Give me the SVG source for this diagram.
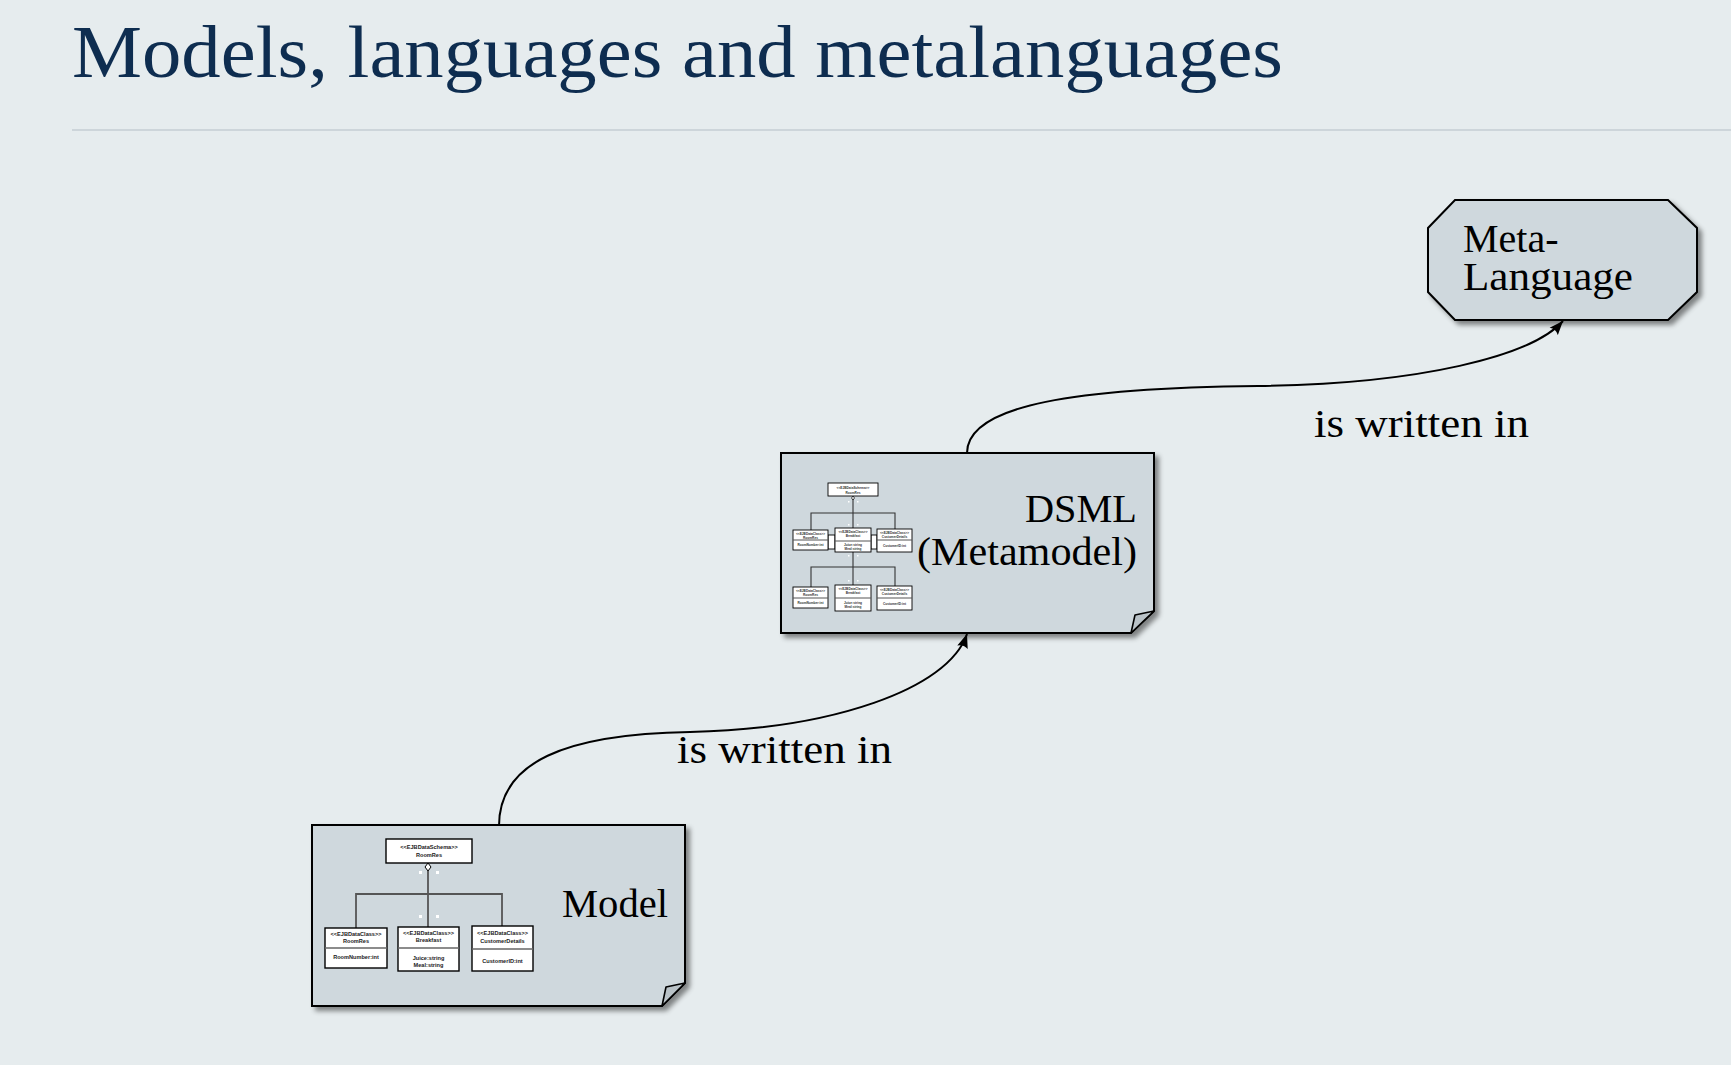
<svg xmlns="http://www.w3.org/2000/svg" width="1731" height="1065" viewBox="0 0 1731 1065">
  <style>
    .title { font-family: "Liberation Serif", "Times New Roman", serif; font-size: 74px; fill: #0e2d50; }
    .lbl { font-family: "Liberation Serif", "Times New Roman", serif; font-size: 40px; fill: #000; }
    .node { fill: #cfd8dd; stroke: #000; stroke-width: 2; }
    .fold { fill: #b9c2c7; stroke: #000; stroke-width: 1.6; stroke-linejoin: round; }
    .edge { fill: none; stroke: #000; stroke-width: 2; }
    .box { fill: #fff; stroke: #000; stroke-width: 1.4; }
    .sbox { fill: #fff; stroke: #000; stroke-width: 0.9; }
    .div { stroke: #666; stroke-width: 1.6; }
    .sdiv { stroke: #555; stroke-width: 1; }
    .wire { fill: none; stroke: #555; stroke-width: 1.8; }
    .swire { fill: none; stroke: #333; stroke-width: 1.1; }
    .handle { fill: #fff; }
    .mt { font-family: "Liberation Sans", Arial, sans-serif; font-size: 5.6px; font-weight: bold; fill: #222; text-anchor: middle; }
    .st { font-family: "Liberation Sans", Arial, sans-serif; font-size: 3.2px; font-weight: bold; fill: #333; text-anchor: middle; }
  </style>
  <defs>
    <filter id="shadow" x="-10%" y="-10%" width="125%" height="130%">
      <feDropShadow dx="4" dy="4" stdDeviation="2.5" flood-color="#000" flood-opacity="0.45"/>
    </filter>
    <marker id="arrow" viewBox="0 -6 15 12" refX="14" refY="0" markerWidth="15" markerHeight="12" markerUnits="userSpaceOnUse" orient="auto">
      <path d="M0,-5.5 L14,0 L0,5.5 Q3.5,0 0,-5.5 Z" fill="#000"/>
    </marker>
  </defs>

  <!-- page background -->
  <rect width="1731" height="1065" fill="#e6ecee"/>

  <!-- slide heading and rule -->
  <text class="title" x="72" y="77" textLength="1211" lengthAdjust="spacingAndGlyphs">Models, languages and metalanguages</text>
  <line x1="72" y1="130" x2="1731" y2="130" stroke="#cdd5da" stroke-width="2"/>

  <!-- connectors -->
  <g id="connectors">
    <path class="edge" d="M499,826 C499,762 565,734 690,732 C830,729 948,690 967,634" marker-end="url(#arrow)"/>
    <path class="edge" d="M967,453 C967,404 1080,388 1258,386 C1420,384 1532,356 1563,321" marker-end="url(#arrow)"/>
    <text class="lbl" x="677" y="763" textLength="215" lengthAdjust="spacingAndGlyphs">is written in</text>
    <text class="lbl" x="1314" y="437" textLength="215" lengthAdjust="spacingAndGlyphs">is written in</text>
  </g>

  <!-- Model: note shape with a small class diagram -->
  <g id="model">
    <path class="node" filter="url(#shadow)" d="M312,825 H685 V983 L662,1006 H312 Z"/>
    <path class="fold" d="M662,1006 L666,987 L685,983 Z"/>
    <text class="lbl" x="562" y="917" textLength="106" lengthAdjust="spacingAndGlyphs">Model</text>

    <!-- associations -->
    <line class="wire" x1="428" y1="871" x2="428" y2="927"/>
    <path class="wire" d="M356,928 V894 H502 V926"/>
    <path d="M428,863 L431,867 L428,871 L425,867 Z" fill="#fff" stroke="#000" stroke-width="1"/>
    <rect class="handle" x="419" y="871" width="3" height="3"/>
    <rect class="handle" x="436" y="871" width="3" height="3"/>
    <rect class="handle" x="419" y="915" width="3" height="3"/>
    <rect class="handle" x="436" y="915" width="3" height="3"/>

    <!-- schema -->
    <rect class="box" x="386" y="839" width="86" height="24"/>
    <text class="mt" x="429" y="849">&lt;&lt;EJBDataSchema&gt;&gt;</text>
    <text class="mt" x="429" y="857">RoomRes</text>

    <!-- classes -->
    <rect class="box" x="325" y="928" width="62" height="40"/>
    <line class="div" x1="325" y1="948" x2="387" y2="948"/>
    <text class="mt" x="356" y="936">&lt;&lt;EJBDataClass&gt;&gt;</text>
    <text class="mt" x="356" y="943">RoomRes</text>
    <text class="mt" x="356" y="959">RoomNumber:int</text>

    <rect class="box" x="398" y="927" width="61" height="44"/>
    <line class="div" x1="398" y1="948" x2="459" y2="948"/>
    <text class="mt" x="428.5" y="935">&lt;&lt;EJBDataClass&gt;&gt;</text>
    <text class="mt" x="428.5" y="942">Breakfast</text>
    <text class="mt" x="428.5" y="960">Juice:string</text>
    <text class="mt" x="428.5" y="967">Meal:string</text>

    <rect class="box" x="472" y="926" width="61" height="45"/>
    <line class="div" x1="472" y1="949" x2="533" y2="949"/>
    <text class="mt" x="502.5" y="935">&lt;&lt;EJBDataClass&gt;&gt;</text>
    <text class="mt" x="502.5" y="943">CustomerDetails</text>
    <text class="mt" x="502.5" y="963">CustomerID:int</text>
  </g>

  <!-- DSML (Metamodel): note shape with a smaller class diagram -->
  <g id="dsml">
    <path class="node" filter="url(#shadow)" d="M781,453 H1154 V611 L1131,633 H781 Z"/>
    <path class="fold" d="M1131,633 L1135,615 L1154,611 Z"/>
    <text class="lbl" x="1137" y="522" text-anchor="end" textLength="112" lengthAdjust="spacingAndGlyphs">DSML</text>
    <text class="lbl" x="1137" y="565" text-anchor="end" textLength="220" lengthAdjust="spacingAndGlyphs">(Metamodel)</text>

    <!-- associations -->
    <line class="swire" x1="853" y1="498" x2="853" y2="528"/>
    <path class="swire" d="M811,530 V513 H895 V529"/>
    <line class="swire" x1="853" y1="552" x2="853" y2="585"/>
    <path class="swire" d="M811,587 V567 H895 V586"/>
    <path d="M853,496 L854.5,498 L853,500 L851.5,498 Z" fill="#fff" stroke="#000" stroke-width="0.7"/>
    <rect class="handle" x="848" y="501" width="1.5" height="1.5"/>
    <rect class="handle" x="857" y="501" width="1.5" height="1.5"/>
    <rect class="handle" x="848" y="524" width="1.5" height="1.5"/>
    <rect class="handle" x="857" y="524" width="1.5" height="1.5"/>
    <rect class="handle" x="848" y="555" width="1.5" height="1.5"/>
    <rect class="handle" x="857" y="555" width="1.5" height="1.5"/>
    <rect class="handle" x="848" y="580" width="1.5" height="1.5"/>
    <rect class="handle" x="857" y="580" width="1.5" height="1.5"/>

    <!-- links between the upper classes -->
    <rect class="sbox" x="828" y="535" width="7" height="14"/>
    <rect class="sbox" x="871" y="535" width="6" height="14"/>

    <!-- schema -->
    <rect class="sbox" x="828" y="483" width="50" height="13"/>
    <text class="st" x="853" y="489">&lt;&lt;EJBDataSchema&gt;&gt;</text>
    <text class="st" x="853" y="493.5">RoomRes</text>

    <!-- upper row -->
    <rect class="sbox" x="793" y="530" width="35" height="20"/>
    <line class="sdiv" x1="793" y1="540" x2="828" y2="540"/>
    <text class="st" x="810.5" y="534.5">&lt;&lt;EJBDataClass&gt;&gt;</text>
    <text class="st" x="810.5" y="538.5">RoomRes</text>
    <text class="st" x="810.5" y="546">RoomNumber:int</text>

    <rect class="sbox" x="835" y="528" width="36" height="24"/>
    <line class="sdiv" x1="835" y1="541" x2="871" y2="541"/>
    <text class="st" x="853" y="532.5">&lt;&lt;EJBDataClass&gt;&gt;</text>
    <text class="st" x="853" y="536.5">Breakfast</text>
    <text class="st" x="853" y="546">Juice:string</text>
    <text class="st" x="853" y="550">Meal:string</text>

    <rect class="sbox" x="877" y="529" width="35" height="23"/>
    <line class="sdiv" x1="877" y1="540" x2="912" y2="540"/>
    <text class="st" x="894.5" y="533.5">&lt;&lt;EJBDataClass&gt;&gt;</text>
    <text class="st" x="894.5" y="537.5">CustomerDetails</text>
    <text class="st" x="894.5" y="547">CustomerID:int</text>

    <!-- lower row -->
    <rect class="sbox" x="793" y="587" width="35" height="21"/>
    <line class="sdiv" x1="793" y1="598" x2="828" y2="598"/>
    <text class="st" x="810.5" y="591.5">&lt;&lt;EJBDataClass&gt;&gt;</text>
    <text class="st" x="810.5" y="595.5">RoomRes</text>
    <text class="st" x="810.5" y="604">RoomNumber:int</text>

    <rect class="sbox" x="835" y="585" width="36" height="26"/>
    <line class="sdiv" x1="835" y1="598" x2="871" y2="598"/>
    <text class="st" x="853" y="589.5">&lt;&lt;EJBDataClass&gt;&gt;</text>
    <text class="st" x="853" y="593.5">Breakfast</text>
    <text class="st" x="853" y="603.5">Juice:string</text>
    <text class="st" x="853" y="607.5">Meal:string</text>

    <rect class="sbox" x="877" y="586" width="35" height="24"/>
    <line class="sdiv" x1="877" y1="598" x2="912" y2="598"/>
    <text class="st" x="894.5" y="590.5">&lt;&lt;EJBDataClass&gt;&gt;</text>
    <text class="st" x="894.5" y="594.5">CustomerDetails</text>
    <text class="st" x="894.5" y="605">CustomerID:int</text>
  </g>

  <!-- Meta-Language: octagon -->
  <g id="metalanguage">
    <path class="node" filter="url(#shadow)" d="M1455,200 H1668 L1697,228 V292 L1668,320 H1455 L1428,292 V228 Z"/>
    <text class="lbl" x="1463" y="252">Meta-</text>
    <text class="lbl" x="1463" y="290" textLength="170" lengthAdjust="spacingAndGlyphs">Language</text>
  </g>
</svg>
